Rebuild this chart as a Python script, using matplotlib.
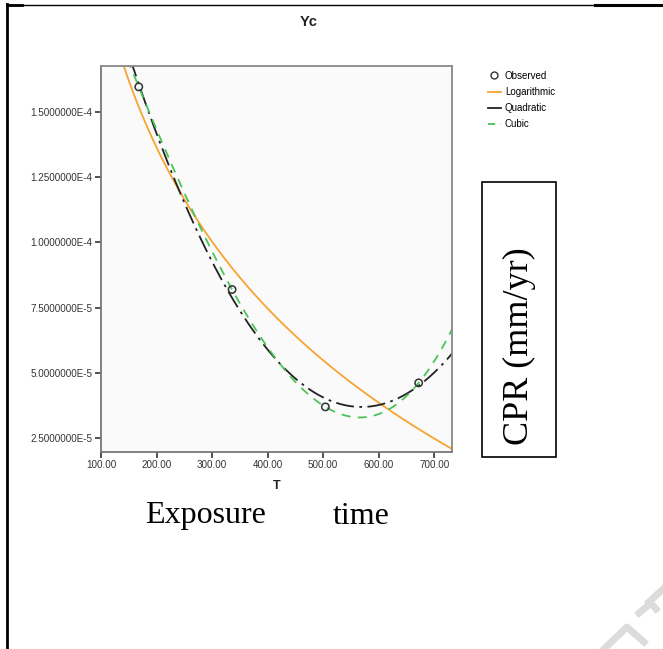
import numpy as np
import matplotlib
matplotlib.use("Agg")
import matplotlib.pyplot as plt
from matplotlib.lines import Line2D
from matplotlib.patches import Rectangle

# observed data (exposure time T in hours, corrosion rate Yc)
T_obs = np.array([168.0, 336.0, 504.0, 672.0])
Yc_obs = np.array([1.596e-4, 8.19e-5, 3.69e-5, 4.61e-5])

x_ticks = [100, 200, 300, 400, 500, 600, 700]
y_ticks = [2.5e-5, 5.0e-5, 7.5e-5, 1.0e-4, 1.25e-4, 1.5e-4]

# curve fits, as in the SPSS curve estimation output
log_coef = np.polyfit(np.log(T_obs), Yc_obs, 1)
quad_coef = np.polyfit(T_obs, Yc_obs, 2)
cub_coef = np.polyfit(T_obs, Yc_obs, 3)

tt = np.linspace(100, 740, 400)
y_log = np.polyval(log_coef, np.log(tt))
y_quad = np.polyval(quad_coef, tt)
y_cub = np.polyval(cub_coef, tt)

W, H = 663, 649
fig = plt.figure(figsize=(W / 100, H / 100), dpi=100)

def fx(px):
    return px / W

def fy(py):
    return 1 - py / H

ax = fig.add_axes([fx(101), fy(452), fx(452) - fx(101), fy(66) - fy(452)])
ax.set_facecolor("#fafafa")

ax.plot(tt, y_log, color="#f7a431", lw=1.3, label="Logarithmic")
ax.plot(tt, y_quad, color="#222222", lw=1.3, dashes=(10, 3, 1.5, 3), label="Quadratic")
ax.plot(tt, y_cub, color="#4cc35a", lw=1.3, dashes=(5, 4), label="Cubic")
ax.scatter(T_obs, Yc_obs, s=28, facecolors="none", edgecolors="#333333",
           linewidths=1.1, zorder=5, label="Observed")

ax.set_xlim(100, 732)
ax.set_ylim(1.96e-5, 1.676e-4)
ax.set_xticks(x_ticks)
ax.set_xticklabels([f"{v:.2f}" for v in x_ticks])
ax.set_yticks(y_ticks)
ax.set_yticklabels([f"{v:.7E}".replace("E-0", "E-") for v in y_ticks])
for lab in ax.get_xticklabels() + ax.get_yticklabels():
    lab.set_family("Liberation Sans")
    lab.set_fontsize(7.1)
    lab.set_color("#333333")
ax.tick_params(length=4, width=1.1, color="#222222", pad=2)
for side in ["top", "right"]:
    ax.spines[side].set_color("#888888")
    ax.spines[side].set_linewidth(1.3)
for side in ["left", "bottom"]:
    ax.spines[side].set_color("#777777")
    ax.spines[side].set_linewidth(1.3)

# legend
handles = [
    Line2D([], [], marker="o", ls="none", mfc="none", mec="#333333", ms=5, mew=1.0),
    Line2D([], [], color="#f7a431", lw=1.3),
    Line2D([], [], color="#222222", lw=1.3),
    Line2D([], [], color="#4cc35a", lw=1.3, dashes=(4, 3)),
]
labels = ["Observed", "Logarithmic", "Quadratic", "Cubic"]
fig.legend(handles, labels, loc="upper left", bbox_to_anchor=(fx(484), fy(67)),
           frameon=False, handlelength=1.3, handletextpad=0.45, labelspacing=0.62,
           prop={"family": "Liberation Sans", "size": 7.0}, borderaxespad=0)

# titles and labels
fig.text(fx(309), fy(22), "Yc", ha="center", va="center", fontsize=10.5,
         fontweight="bold", family="Liberation Sans", color="#222222")
fig.text(fx(277), fy(486), "T", ha="center", va="center", fontsize=9,
         fontweight="bold", family="Liberation Sans", color="#222222")
fig.text(fx(145), fy(516), "Exposure", ha="left", va="center", fontsize=23,
         family="Liberation Serif")
fig.text(fx(333), fy(516), "time", ha="left", va="center", fontsize=23,
         family="Liberation Serif")

# boxed y-label
fig.patches.append(Rectangle((fx(482), fy(457)), fx(556) - fx(482), fy(182) - fy(457),
                             transform=fig.transFigure, fill=False, ec="black", lw=1.2))
fig.text(fx(519), fy(346), "CPR (mm/yr)", ha="center", va="center", rotation=90,
         fontsize=26, family="Liberation Serif")

# page frame
fig.add_artist(Line2D([fx(7), fx(7)], [fy(4), fy(649)], color="black", lw=2.0,
                      transform=fig.transFigure))
fig.add_artist(Line2D([fx(7), fx(22)], [fy(5), fy(5)], color="black", lw=2.0,
                      transform=fig.transFigure))
fig.add_artist(Line2D([fx(7), fx(600)], [fy(4.5), fy(4.5)], color="black", lw=1.0,
                      transform=fig.transFigure))
fig.add_artist(Line2D([fx(595), fx(663)], [fy(5), fy(5)], color="black", lw=2.2,
                      transform=fig.transFigure))

# watermark fragments
fig.add_artist(Line2D([fx(604), fx(627), fx(644)], [fy(649), fy(627), fy(642)],
                      color="#dcdcdc", lw=5, transform=fig.transFigure))
fig.add_artist(Line2D([fx(639), fx(651), fx(656)], [fy(613), fy(603), fy(609)],
                      color="#dcdcdc", lw=5, transform=fig.transFigure))
fig.add_artist(Line2D([fx(649), fx(663)], [fy(602), fy(589)],
                      color="#dcdcdc", lw=5, transform=fig.transFigure))

fig.savefig("out.png", dpi=100)
